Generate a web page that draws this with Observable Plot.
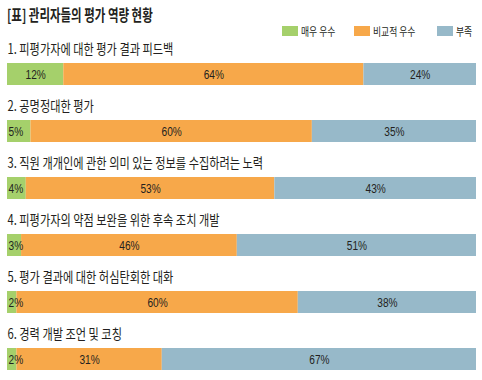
<!DOCTYPE html>
<html>
<head>
<meta charset="utf-8">
<script src="https://cdn.jsdelivr.net/npm/d3@7"></script>
<script src="https://cdn.jsdelivr.net/npm/@observablehq/plot@0.6"></script>
<style>
  html, body { margin: 0; padding: 0; background: #fff; }
  #wrap { position: relative; width: 482px; height: 380px; overflow: hidden; color: #231f20; }
  #title { position: absolute; left: 7px; top: 4px; font: 700 15.5px "Noto Sans CJK KR", sans-serif; line-height: 20px; white-space: nowrap; transform: scaleX(0.74); transform-origin: left center; }
  .sw { position: absolute; top: 26px; width: 16px; height: 10px; }
  .lt { position: absolute; top: 24px; font: 400 11px "Noto Sans CJK KR", sans-serif; line-height: 14px; white-space: nowrap; transform: scaleX(0.8); transform-origin: left center; }
  #chart { position: absolute; left: 0; top: 30px; }
</style>
</head>
<body>
<div id="wrap">
  <div id="title">[표] 관리자들의 평가 역량 현황</div>
  <div id="legend"></div>
  <div id="chart"></div>
</div>
<script>
const title = "[표] 관리자들의 평가 역량 현황";
const categories = [
  "1. 피평가자에 대한 평가 결과 피드백",
  "2. 공명정대한 평가",
  "3. 직원 개개인에 관한 의미 있는 정보를 수집하려는 노력",
  "4. 피평가자의 약점 보완을 위한 후속 조치 개발",
  "5. 평가 결과에 대한 허심탄회한 대화",
  "6. 경력 개발 조언 및 코칭"
];
const levels = ["매우 우수", "비교적 우수", "부족"];
const colors = ["#a5d06b", "#f7a84a", "#97b9c9"];
const veryGood = [12, 5, 4, 3, 2, 2];
const fairlyGood = [64, 60, 53, 46, 60, 31];
const lacking = [24, 35, 43, 51, 38, 67];

// legend
const legendX = [282, 354, 437];
const legend = document.getElementById("legend");
levels.forEach((l, i) => {
  const s = document.createElement("div");
  s.className = "sw"; s.style.left = legendX[i] + "px"; s.style.background = colors[i];
  legend.appendChild(s);
  const t = document.createElement("div");
  t.className = "lt"; t.style.left = (legendX[i] + 19) + "px"; t.textContent = l;
  legend.appendChild(t);
});

const series = [veryGood, fairlyGood, lacking];
const data = [];
categories.forEach((c, ci) => {
  levels.forEach((l, li) => data.push({cat: c, level: l, value: series[li][ci]}));
});
const small = data.filter(d => d.level === levels[0] && d.value < 6);

const chart = Plot.plot({
  width: 482,
  height: 350,
  marginLeft: 7,
  marginRight: 6,
  marginTop: 31,
  marginBottom: 8,
  x: {domain: [0, 100], axis: null},
  y: {domain: categories, axis: null, paddingInner: 0.619, paddingOuter: 0},
  color: {domain: levels, range: colors},
  marks: [
    Plot.barX(data, {x: "value", y: "cat", fill: "level"}),
    Plot.text(data, Plot.stackX({
      x: "value", y: "cat",
      text: d => (d.level === levels[0] && d.value < 6) ? "" : d.value + "%",
      fill: "#231f20", fontSize: 13, fontFamily: "Liberation Sans, Arial, sans-serif",
      className: "vallab"
    })),
    Plot.text(small, {
      x: () => 0, y: "cat", text: d => d.value + "%", textAnchor: "start", dx: 1,
      fill: "#231f20", fontSize: 13, fontFamily: "Liberation Sans, Arial, sans-serif",
      className: "vallab"
    }),
    Plot.text(categories, {
      x: () => 0, y: d => d, text: d => d, textAnchor: "start", dy: -25,
      fill: "#231f20", fontSize: 14, fontFamily: "Noto Sans CJK KR, sans-serif",
      className: "catlab"
    })
  ]
});
document.getElementById("chart").appendChild(chart);

function squeeze(sel, k) {
  chart.querySelectorAll(sel).forEach(el => {
    const t = el.getAttribute("transform");
    if (t) el.setAttribute("transform", t + ` scale(${k},1)`);
  });
}
squeeze(".vallab text", 0.78);
squeeze(".catlab text", 0.8);
</script>
</body>
</html>
